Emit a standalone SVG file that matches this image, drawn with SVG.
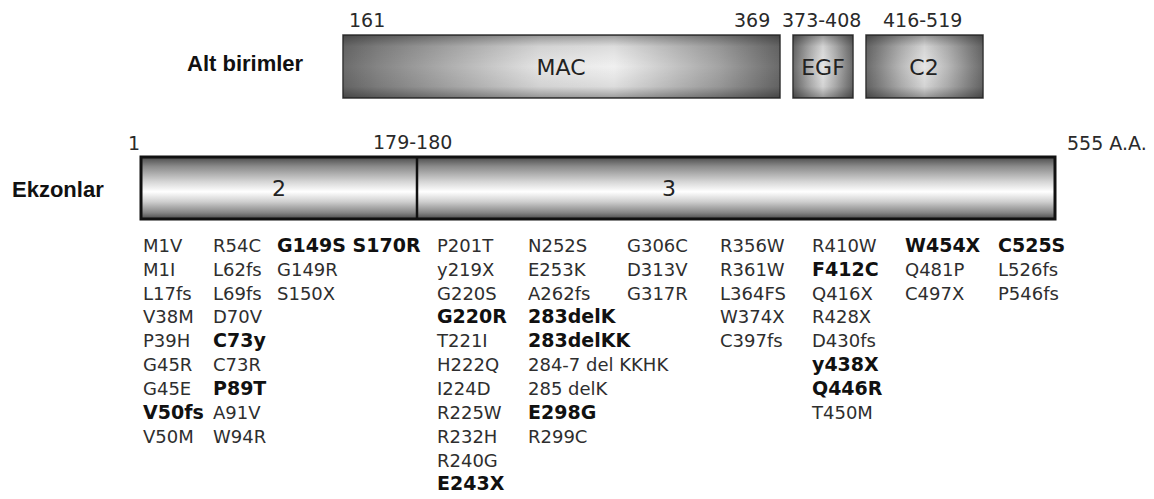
<svg xmlns="http://www.w3.org/2000/svg" width="1154" height="499" viewBox="0 0 1154 499">
<defs>
<linearGradient id="macH" x1="0" y1="0" x2="1" y2="0">
<stop offset="0" stop-color="#6c6c6c"/>
<stop offset="0.08" stop-color="#858585"/>
<stop offset="0.45" stop-color="#e4e4e4"/>
<stop offset="0.62" stop-color="#f0f0f0"/>
<stop offset="0.86" stop-color="#a4a4a4"/>
<stop offset="1" stop-color="#6a6a6a"/>
</linearGradient>
<linearGradient id="boxH" x1="0" y1="0" x2="1" y2="0">
<stop offset="0" stop-color="#6a6a6a"/>
<stop offset="0.3" stop-color="#b8b8b8"/>
<stop offset="0.5" stop-color="#e6e6e6"/>
<stop offset="0.7" stop-color="#b8b8b8"/>
<stop offset="1" stop-color="#6a6a6a"/>
</linearGradient>
<linearGradient id="bevel" x1="0" y1="0" x2="0" y2="1">
<stop offset="0" stop-color="#000" stop-opacity="0.35"/>
<stop offset="0.18" stop-color="#000" stop-opacity="0.08"/>
<stop offset="0.5" stop-color="#000" stop-opacity="0"/>
<stop offset="0.82" stop-color="#000" stop-opacity="0.08"/>
<stop offset="1" stop-color="#000" stop-opacity="0.35"/>
</linearGradient>
<linearGradient id="exonV" x1="0" y1="0" x2="0" y2="1">
<stop offset="0" stop-color="#4a4a4a"/>
<stop offset="0.15" stop-color="#8a8a8a"/>
<stop offset="0.4" stop-color="#d6d6d6"/>
<stop offset="0.56" stop-color="#ffffff"/>
<stop offset="0.72" stop-color="#cfcfcf"/>
<stop offset="0.9" stop-color="#858585"/>
<stop offset="1" stop-color="#4a4a4a"/>
</linearGradient>
</defs>
<style>
.hdr{font-family:"Liberation Sans",Arial,sans-serif;font-weight:bold;font-size:22px;fill:#111}
.num{font-family:"DejaVu Sans",sans-serif;font-size:19px;fill:#2a2a2a}
.box{stroke:#3a3a3a;stroke-width:1.5}
.blab{font-family:"DejaVu Sans",sans-serif;font-size:22px;fill:#222;text-anchor:middle}
.m{font-family:"DejaVu Sans",sans-serif;font-size:18px;fill:#2e2e2e}
.b{font-family:"DejaVu Sans",sans-serif;font-weight:bold;font-size:19px;fill:#111}
</style>
<rect width="1154" height="499" fill="#fff"/>

<g id="subunits-label"><text class="hdr" x="187" y="71">Alt birimler</text></g>

<g id="domain-labels">
<text class="num" x="349" y="27">161</text>
<text class="num" x="734" y="27">369</text>
<text class="num" x="782" y="27">373-408</text>
<text class="num" x="883" y="27">416-519</text>
</g>

<g id="mac">
<rect class="box" x="343" y="35" width="437" height="63" fill="url(#macH)"/>
<rect x="343" y="35" width="437" height="63" fill="url(#bevel)"/>
<text class="blab" x="561" y="75">MAC</text>
</g>
<g id="egf">
<rect class="box" x="793" y="35" width="60" height="63" fill="url(#boxH)"/>
<rect x="793" y="35" width="60" height="63" fill="url(#bevel)"/>
<text class="blab" x="823" y="75" font-size="21">EGF</text>
</g>
<g id="c2">
<rect class="box" x="866" y="35" width="117" height="63" fill="url(#boxH)"/>
<rect x="866" y="35" width="117" height="63" fill="url(#bevel)"/>
<text class="blab" x="924" y="75">C2</text>
</g>

<g id="exons-label"><text class="hdr" x="12" y="197">Ekzonlar</text></g>

<g id="exon-labels">
<text class="num" x="128" y="150">1</text>
<text class="num" x="373" y="149">179-180</text>
<text class="num" x="1067" y="150">555 A.A.</text>
</g>

<g id="exon-bar">
<rect x="141" y="157" width="914" height="62" fill="url(#exonV)" stroke="#111" stroke-width="3"/>
<line x1="417" y1="157" x2="417" y2="219" stroke="#111" stroke-width="2.5"/>
<text class="blab" x="279" y="196">2</text>
<text class="blab" x="669" y="196">3</text>
</g>

<g id="col1">
<text class="m" x="143" y="252">M1V</text>
<text class="m" x="143" y="276">M1I</text>
<text class="m" x="143" y="300">L17fs</text>
<text class="m" x="143" y="323">V38M</text>
<text class="m" x="143" y="347">P39H</text>
<text class="m" x="143" y="371">G45R</text>
<text class="m" x="143" y="395">G45E</text>
<text class="b" x="143" y="419">V50fs</text>
<text class="m" x="143" y="443">V50M</text>
</g>
<g id="col2">
<text class="m" x="213" y="252">R54C</text>
<text class="m" x="213" y="276">L62fs</text>
<text class="m" x="213" y="300">L69fs</text>
<text class="m" x="213" y="323">D70V</text>
<text class="b" x="213" y="347">C73y</text>
<text class="m" x="213" y="371">C73R</text>
<text class="b" x="213" y="395">P89T</text>
<text class="m" x="213" y="419">A91V</text>
<text class="m" x="213" y="443">W94R</text>
</g>
<g id="col3">
<text class="b" x="277" y="252">G149S S170R</text>
<text class="m" x="277" y="276">G149R</text>
<text class="m" x="277" y="300">S150X</text>
</g>
<g id="col4">
<text class="m" x="437" y="252">P201T</text>
<text class="m" x="437" y="276">y219X</text>
<text class="m" x="437" y="300">G220S</text>
<text class="b" x="437" y="323">G220R</text>
<text class="m" x="437" y="347">T221I</text>
<text class="m" x="437" y="371">H222Q</text>
<text class="m" x="437" y="395">I224D</text>
<text class="m" x="437" y="419">R225W</text>
<text class="m" x="437" y="443">R232H</text>
<text class="m" x="437" y="467">R240G</text>
<text class="b" x="437" y="490">E243X</text>
</g>
<g id="col5">
<text class="m" x="528" y="252">N252S</text>
<text class="m" x="528" y="276">E253K</text>
<text class="m" x="528" y="300">A262fs</text>
<text class="b" x="528" y="323">283delK</text>
<text class="b" x="528" y="347">283delKK</text>
<text class="m" x="528" y="371">284-7 del KKHK</text>
<text class="m" x="528" y="395">285 delK</text>
<text class="b" x="528" y="419">E298G</text>
<text class="m" x="528" y="443">R299C</text>
</g>
<g id="col6">
<text class="m" x="627" y="252">G306C</text>
<text class="m" x="627" y="276">D313V</text>
<text class="m" x="627" y="300">G317R</text>
</g>
<g id="col7">
<text class="m" x="720" y="252">R356W</text>
<text class="m" x="720" y="276">R361W</text>
<text class="m" x="720" y="300">L364FS</text>
<text class="m" x="720" y="323">W374X</text>
<text class="m" x="720" y="347">C397fs</text>
</g>
<g id="col8">
<text class="m" x="812" y="252">R410W</text>
<text class="b" x="812" y="276">F412C</text>
<text class="m" x="812" y="300">Q416X</text>
<text class="m" x="812" y="323">R428X</text>
<text class="m" x="812" y="347">D430fs</text>
<text class="b" x="812" y="371">y438X</text>
<text class="b" x="812" y="395">Q446R</text>
<text class="m" x="812" y="419">T450M</text>
</g>
<g id="col9">
<text class="b" x="905" y="252">W454X</text>
<text class="m" x="905" y="276">Q481P</text>
<text class="m" x="905" y="300">C497X</text>
</g>
<g id="col10">
<text class="b" x="998" y="252">C525S</text>
<text class="m" x="998" y="276">L526fs</text>
<text class="m" x="998" y="300">P546fs</text>
</g>
</svg>
